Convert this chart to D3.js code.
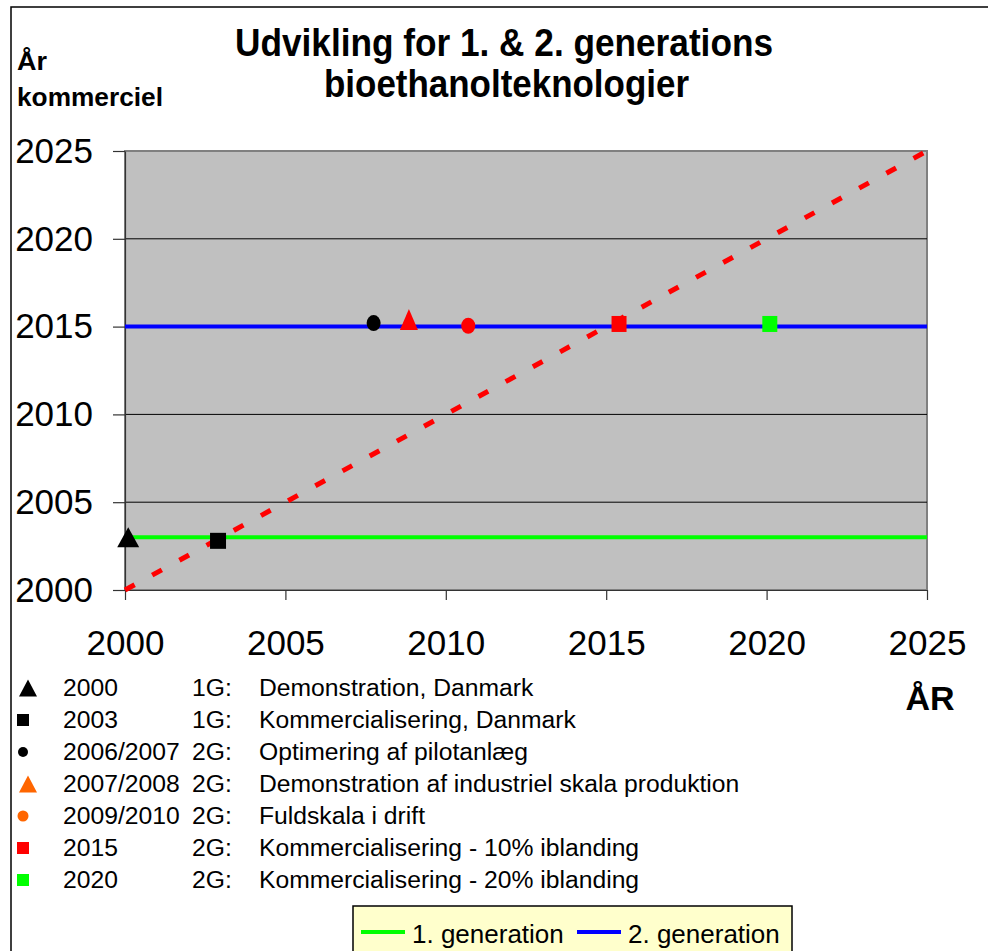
<!DOCTYPE html>
<meta charset="utf-8">
<style>
body { margin: 0; background: #fff; }
svg { display: block; }
text { font-family: "Liberation Sans", Arial, Helvetica, sans-serif; fill: #000; }
.title, .ylab { font-family: "Liberation Sans Narrow", "Arial Narrow", "Liberation Sans", Arial, sans-serif; font-weight: bold; }
.axis text { font-size: 35px; }
.axis path, .axis line { stroke: #333; stroke-width: 1.2px; }
.note { font-size: 24.7px; }
.leg { font-size: 26px; }
</style>
<svg width="988" height="951"></svg>
<script src="https://d3js.org/d3.v7.min.js"></script>
<script>

// chart values
var tickYears = [2000, 2005, 2010, 2015, 2020, 2025];
var gen1Line = [[2000, 2003], [2025, 2003]];
var gen2Line = [[2000, 2015], [2025, 2015]];
var trendLine = [[2000, 2000], [2025, 2025]];

// milestones plotted in the chart
var milestoneX = [2000.1, 2002.9, 2007.75, 2008.85, 2010.7, 2015.4, 2020.1];
var milestoneY = [2003.0, 2002.8, 2015.2, 2015.4, 2015.05, 2015.15, 2015.15];

// notes below the chart
var noteYear = ["2000", "2003", "2006/2007", "2007/2008", "2009/2010", "2015", "2020"];
var noteGen = ["1G:", "1G:", "2G:", "2G:", "2G:", "2G:", "2G:"];
var noteText = [
  "Demonstration, Danmark",
  "Kommercialisering, Danmark",
  "Optimering af pilotanlæg",
  "Demonstration af industriel skala produktion",
  "Fuldskala i drift",
  "Kommercialisering - 10% iblanding",
  "Kommercialisering - 20% iblanding"
];
var seriesNames = ["1. generation", "2. generation"];

// marker styles (chart, note list)
var chartMarks = [
  {shape: "tri", color: "#000", w: 22, h: 20},
  {shape: "sq", color: "#000", w: 16, h: 16},
  {shape: "circ", color: "#000", w: 14, h: 16},
  {shape: "tri", color: "#ff0000", w: 18, h: 21},
  {shape: "circ", color: "#ff0000", w: 14, h: 16},
  {shape: "sq", color: "#ff0000", w: 15, h: 16},
  {shape: "sq", color: "#00ff00", w: 15, h: 16}
];
var noteMarks = [
  {shape: "tri", color: "#000", w: 18, h: 17},
  {shape: "sq", color: "#000", w: 12, h: 12},
  {shape: "circ", color: "#000", w: 10, h: 10},
  {shape: "tri", color: "#ff6600", w: 18, h: 17},
  {shape: "circ", color: "#ff6600", w: 11, h: 11},
  {shape: "sq", color: "#ff0000", w: 12, h: 12},
  {shape: "sq", color: "#00ff00", w: 12, h: 12}
];

var svg = d3.select("svg");

var plot = {left: 125, right: 927, top: 151, bottom: 590};

var x = d3.scaleLinear().domain([2000, 2025]).range([plot.left, plot.right]);
var y = d3.scaleLinear().domain([2000, 2025]).range([plot.bottom, plot.top]);

// outer frame
svg.append("rect")
    .attr("x", 11).attr("y", 7)
    .attr("width", 1000).attr("height", 1000)
    .attr("fill", "none").attr("stroke", "#000").attr("stroke-width", 1.5);

// plot background
svg.append("rect")
    .attr("x", plot.left).attr("y", plot.top)
    .attr("width", plot.right - plot.left).attr("height", plot.bottom - plot.top)
    .attr("fill", "#c0c0c0").attr("stroke", "#808080").attr("stroke-width", 2);

// gridlines
svg.append("g").selectAll("line")
    .data(tickYears.slice(1, -1))
    .join("line")
      .attr("x1", plot.left).attr("x2", plot.right)
      .attr("y1", function(d) { return y(d); }).attr("y2", function(d) { return y(d); })
      .attr("stroke", "#000").attr("stroke-width", 1);

// axes
svg.append("g")
    .attr("class", "axis")
    .attr("transform", "translate(" + plot.left + ",0)")
    .call(d3.axisLeft(y).tickValues(tickYears).tickFormat(d3.format("d")).tickSize(12).tickSizeOuter(0).tickPadding(20))
    .call(function(g) { g.selectAll("text").attr("fill", "#000"); });

svg.append("g")
    .attr("class", "axis")
    .attr("transform", "translate(0," + plot.bottom + ")")
    .call(d3.axisBottom(x).tickValues(tickYears).tickFormat(d3.format("d")).tickSize(10).tickSizeOuter(0).tickPadding(30))
    .call(function(g) { g.selectAll("text").attr("fill", "#000"); });

var line = d3.line()
    .x(function(d) { return x(d[0]); })
    .y(function(d) { return y(d[1]); });

svg.append("path").datum(gen1Line)
    .attr("d", line).attr("fill", "none").attr("stroke", "#00ff00").attr("stroke-width", 4);
svg.append("path").datum(gen2Line)
    .attr("d", line).attr("fill", "none").attr("stroke", "#0000ff").attr("stroke-width", 4);
svg.append("path").datum(trendLine)
    .attr("d", line).attr("fill", "none").attr("stroke", "#ff0000").attr("stroke-width", 5)
    .attr("stroke-dasharray", "11,20");

function drawMark(g, m, cx, cy) {
  if (m.shape === "tri") {
    g.append("path")
      .attr("d", "M" + cx + "," + (cy - m.h / 2) + "L" + (cx + m.w / 2) + "," + (cy + m.h / 2) + "L" + (cx - m.w / 2) + "," + (cy + m.h / 2) + "Z")
      .attr("fill", m.color);
  } else if (m.shape === "sq") {
    g.append("rect")
      .attr("x", cx - m.w / 2).attr("y", cy - m.h / 2)
      .attr("width", m.w).attr("height", m.h)
      .attr("fill", m.color);
  } else {
    g.append("ellipse")
      .attr("cx", cx).attr("cy", cy)
      .attr("rx", m.w / 2).attr("ry", m.h / 2)
      .attr("fill", m.color);
  }
}

var marks = svg.append("g");
milestoneX.forEach(function(v, i) {
  drawMark(marks, chartMarks[i], x(v), y(milestoneY[i]));
});

// title (condensed look: larger size squeezed to the original width)
svg.append("text").attr("class", "title")
    .attr("x", 235).attr("y", 56)
    .attr("textLength", 538).attr("lengthAdjust", "spacingAndGlyphs")
    .style("font-size", "38px")
    .text("Udvikling for 1. & 2. generations");
svg.append("text").attr("class", "title")
    .attr("x", 324).attr("y", 97)
    .attr("textLength", 365).attr("lengthAdjust", "spacingAndGlyphs")
    .style("font-size", "38px")
    .text("bioethanolteknologier");

svg.append("text").attr("class", "ylab")
    .attr("x", 17).attr("y", 70).style("font-size", "26px")
    .attr("textLength", 30).attr("lengthAdjust", "spacingAndGlyphs")
    .text("År");
svg.append("text").attr("class", "ylab")
    .attr("x", 17).attr("y", 106).style("font-size", "26px")
    .attr("textLength", 146).attr("lengthAdjust", "spacingAndGlyphs")
    .text("kommerciel");

svg.append("text")
    .attr("x", 930).attr("y", 710).attr("text-anchor", "middle")
    .style("font-size", "34px").style("font-weight", "bold")
    .text("ÅR");

// note list
var rowY = d3.scalePoint().domain(d3.range(noteYear.length)).range([696, 888]);
var notes = svg.append("g");
noteYear.forEach(function(yr, i) {
  var by = rowY(i);
  drawMark(notes, noteMarks[i], i === 0 || i === 3 ? 28 : 23, by - 8);
  notes.append("text").attr("class", "note").attr("x", 63).attr("y", by).text(yr);
  notes.append("text").attr("class", "note").attr("x", 192).attr("y", by).text(noteGen[i]);
  notes.append("text").attr("class", "note").attr("x", 259).attr("y", by).text(noteText[i]);
});

// series legend
var leg = svg.append("g");
leg.append("rect")
    .attr("x", 353).attr("y", 906).attr("width", 439).attr("height", 50)
    .attr("fill", "#ffffcc").attr("stroke", "#000").attr("stroke-width", 1.5);
var legColors = ["#00ff00", "#0000ff"];
var legX = [361, 577];
seriesNames.forEach(function(name, i) {
  leg.append("line")
    .attr("x1", legX[i]).attr("x2", legX[i] + 44)
    .attr("y1", 932).attr("y2", 932)
    .attr("stroke", legColors[i]).attr("stroke-width", 4);
  leg.append("text").attr("class", "leg")
    .attr("x", legX[i] + 51).attr("y", 943).text(name);
});

</script>
